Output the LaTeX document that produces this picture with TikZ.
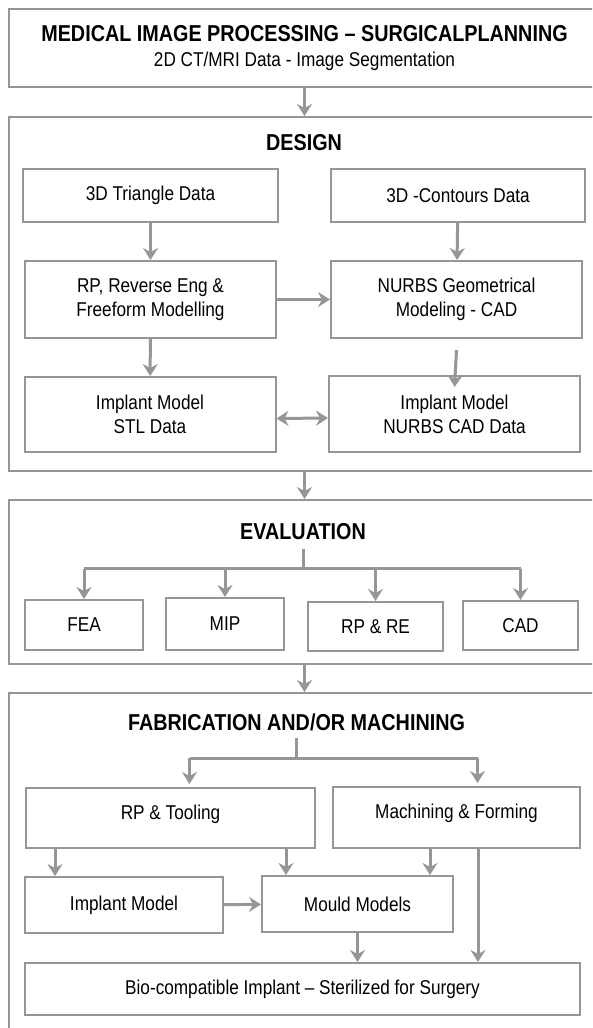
\documentclass[tikz,border=0pt]{standalone}
\usepackage{fontspec}
\setmainfont{Liberation Sans}[FakeStretch=0.86]
\usetikzlibrary{arrows.meta}
\definecolor{linegray}{RGB}{150,150,150}
\begin{document}
\begin{tikzpicture}[x=1pt, y=1pt]
      \tikzset{
	  frame/.style={rectangle, draw=linegray, line width=2pt, inner sep=0pt},
	  box/.style={rectangle, draw=linegray, line width=2pt, inner sep=0pt, align=center, font=\fontsize{20}{24}\selectfont},
	  heading/.style={font=\bfseries\fontsize{23}{26}\selectfont},
	  arr/.style={draw=linegray, line width=3pt, -{Stealth[length=12pt, width=15pt, inset=4pt]}},
	  dblarr/.style={draw=linegray, line width=3pt, {Stealth[length=12pt, width=15pt, inset=4pt]}-{Stealth[length=12pt, width=15pt, inset=4pt]}},
	  branch/.style={draw=linegray, line width=3pt}
      }
      \useasboundingbox (0,0) rectangle (592,-1028);
      \clip (0,0) rectangle (592,-1028);

      \node (planning) [frame, minimum width=592, minimum height=78, align=center] at (304.5,-48)
	    {{\bfseries\fontsize{23}{26}\selectfont MEDICAL IMAGE PROCESSING -- SURGICALPLANNING}\\[9pt]
	     {\fontsize{20}{22}\selectfont 2D CT/MRI Data - Image Segmentation}};
      \node (design) [frame, minimum width=592, minimum height=354] at (304.5,-294) {};
      \node (evaluation) [frame, minimum width=592, minimum height=164] at (304.5,-582) {};
      \node (fabrication) [frame, minimum width=592, minimum height=347] at (304.5,-866.5) {};

      \node (designhead) [heading] at (304,-143) {DESIGN};
      \node (triangle) [box, minimum width=255, minimum height=53] at (150.5,-195.5) {3D Triangle Data};
      \node (contours) [box, minimum width=254, minimum height=53] at (458,-195.5) {3D -Contours Data};
      \node (freeform) [box, minimum width=251, minimum height=77] at (150.5,-299.5) {RP, Reverse Eng \&\\Freeform Modelling};
      \node (nurbs) [box, minimum width=251, minimum height=77] at (456.5,-299.5) {NURBS Geometrical\\Modeling - CAD};
      \node (stl) [box, minimum width=251, minimum height=75] at (150,-414.5) {Implant Model\\STL Data};
      \node (nurbsdata) [box, minimum width=251, minimum height=76] at (454.5,-414) {Implant Model\\NURBS CAD Data};

      \node (evalhead) [heading] at (303,-532) {EVALUATION};
      \node (fea) [box, minimum width=118, minimum height=50] at (84,-625) {FEA};
      \node (mip) [box, minimum width=118, minimum height=52] at (225,-624) {MIP};
      \node (rpre) [box, minimum width=135, minimum height=49] at (375.5,-626.5) {RP \& RE};
      \node (cad) [box, minimum width=115, minimum height=49] at (520.5,-625.5) {CAD};

      \node (fabhead) [heading] at (296.5,-722) {FABRICATION AND/OR MACHINING};
      \node (tooling) [box, minimum width=289, minimum height=60, text depth=12pt] at (170.5,-818) {RP \& Tooling};
      \node (machining) [box, minimum width=247, minimum height=61, text depth=12pt] at (456.5,-817.5) {Machining \& Forming};
      \node (implant) [box, minimum width=198, minimum height=56] at (124,-905) {Implant Model};
      \node (mould) [box, minimum width=191, minimum height=56] at (357.5,-904) {Mould Models};
      \node (biocomp) [box, minimum width=555, minimum height=52] at (302.5,-989) {Bio-compatible Implant -- Sterilized for Surgery};

      \draw[arr] (planning.south) -- (design.north);
      \draw[arr] (design.south) -- (evaluation.north);
      \draw[arr] (evaluation.south) -- (fabrication.north);

      \draw[arr] (triangle) -- (freeform);
      \draw[arr] (contours) -- (nurbs);
      \draw[arr] (freeform) -- (nurbs);
      \draw[arr] (freeform) -- (stl);
      \draw[arr] ([yshift=-11pt]nurbs.south) -- ([yshift=-12pt]nurbsdata.north);
      \draw[dblarr] ([yshift=-4pt]stl.east) -- ([yshift=-4pt]nurbsdata.west);

      \draw[branch] ([yshift=-5pt]evalhead.south) -- ++(0,-20) coordinate (evalfork);
      \draw[branch] (evalfork -| fea.north) -- (evalfork -| cad.north);
      \foreach \n in {fea, mip, rpre, cad}
	  \draw[arr] (evalfork -| \n.north) -- (\n.north);

      \draw[branch] ([yshift=-4pt]fabhead.south) -- ++(0,-20) coordinate (fabfork);
      \draw[branch] ([xshift=19pt]fabfork -| tooling.north) -- ([xshift=21pt]fabfork -| machining.north);
      \draw[arr] ([xshift=19pt]fabfork -| tooling.north) -- ([xshift=19pt, yshift=3pt]tooling.north);
      \draw[arr] ([xshift=21pt]fabfork -| machining.north) -- ([xshift=21pt, yshift=3pt]machining.north);

      \draw[arr] ([xshift=30pt]tooling.south west) -- ([xshift=30pt]tooling.south west |- implant.north);
      \draw[arr] ([xshift=-30pt]tooling.south east) -- ([xshift=-30pt]tooling.south east |- mould.north);
      \draw[arr] ([xshift=-24pt]mould.north east |- machining.south) -- ([xshift=-24pt]mould.north east);
      \draw[arr] ([xshift=-103pt]machining.south east) -- ([xshift=-103pt]machining.south east |- biocomp.north);
      \draw[arr] (implant) -- (mould);
      \draw[arr] (mould) -- (mould.south |- biocomp.north);
    \end{tikzpicture}
\end{document}
